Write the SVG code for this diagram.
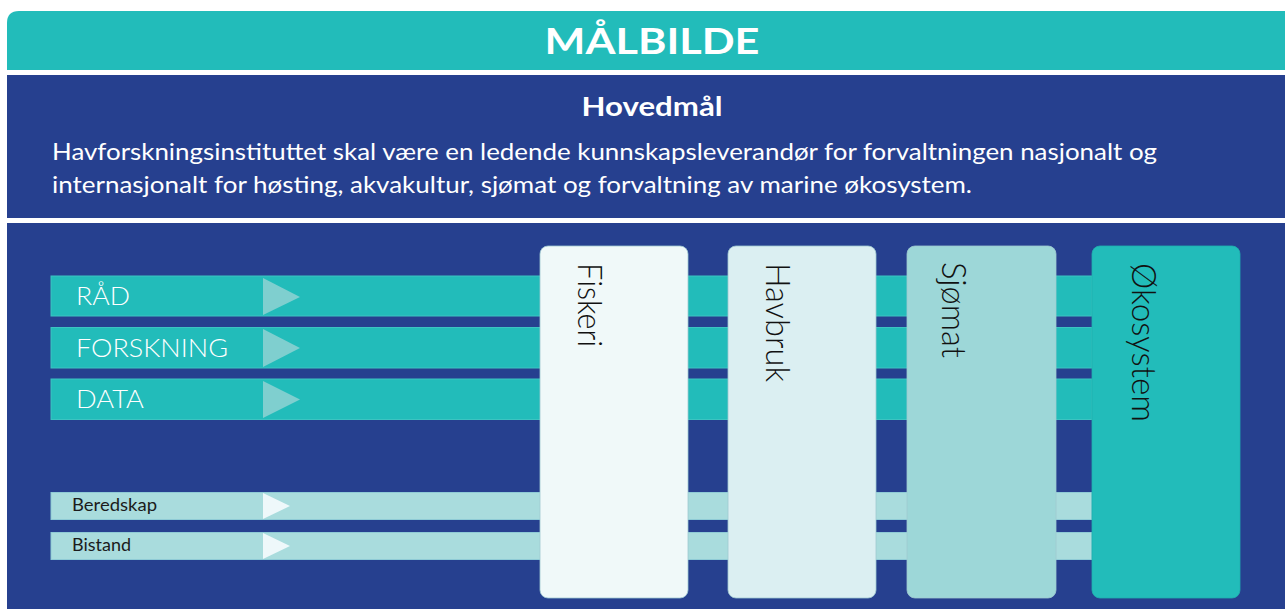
<svg xmlns="http://www.w3.org/2000/svg" width="1285" height="609" viewBox="0 0 1285 609">
<style>
.teal{fill:#22bcba}
.navy{fill:#26408f}
.bar{fill:#22bcba;stroke:#3cc4c2;stroke-width:1}
.sbar{fill:#a9dcdd;stroke:#8fcbd6;stroke-width:1}
.tri{fill:#7fcfcf}
.stri{fill:#eef8fa}
.card{stroke:#9fc9d0;stroke-width:0.8}
.hdr{font-family:Lato,"Open Sans","Liberation Sans",sans-serif;fill:#ffffff;font-weight:700}
.body{font-family:Lato,"Open Sans","Liberation Sans",sans-serif;fill:#ffffff;font-size:23px;font-weight:400}
.lbl{font-family:Lato,"Open Sans","Liberation Sans",sans-serif;fill:#ffffff;font-size:25px;font-weight:300}
.slbl{font-family:Lato,"Open Sans","Liberation Sans",sans-serif;fill:#1b1b1b;font-size:18px}
.vlbl{font-family:Lato,"Open Sans","Liberation Sans",sans-serif;fill:#111111;font-size:34px;font-weight:300}
</style>
<rect width="1285" height="609" fill="#ffffff"/>
<g id="header">
<path class="teal" d="M7,70 L7,23 Q7,11 19,11 L1285,11 L1285,70 Z"/>
<text class="hdr" x="652" y="54" font-size="37" text-anchor="middle" textLength="215" lengthAdjust="spacingAndGlyphs">MÅLBILDE</text>
</g>
<g id="hovedmal">
<rect class="navy" x="7" y="75" width="1278" height="143"/>
<text class="hdr" x="652" y="116" font-size="26" text-anchor="middle" textLength="141" lengthAdjust="spacingAndGlyphs">Hovedmål</text>
<text class="body" x="52" y="160" textLength="1105" lengthAdjust="spacingAndGlyphs">Havforskningsinstituttet skal være en ledende kunnskapsleverandør for forvaltningen nasjonalt og</text>
<text class="body" x="52" y="193" textLength="920" lengthAdjust="spacingAndGlyphs">internasjonalt for høsting, akvakultur, sjømat og forvaltning av marine økosystem.</text>
</g>
<rect class="navy" x="7" y="223" width="1278" height="386"/>
<g id="connectors">
<g id="rad">
<rect class="bar" x="51" y="276" width="1041" height="40"/>
<polygon class="tri" points="263,278 300,297 263,315"/>
<text class="lbl" x="76" y="305" textLength="54" lengthAdjust="spacingAndGlyphs">RÅD</text>
</g>
<g id="forskning">
<rect class="bar" x="51" y="327.5" width="1041" height="40.5"/>
<polygon class="tri" points="263,329 300,348 263,367"/>
<text class="lbl" x="76" y="357" textLength="152" lengthAdjust="spacingAndGlyphs">FORSKNING</text>
</g>
<g id="data">
<rect class="bar" x="51" y="379" width="1041" height="40.5"/>
<polygon class="tri" points="263,381 300,399.5 263,418"/>
<text class="lbl" x="76" y="408" textLength="68" lengthAdjust="spacingAndGlyphs">DATA</text>
</g>
<g id="beredskap">
<rect class="sbar" x="51" y="492.5" width="1041" height="27"/>
<polygon class="stri" points="263,493 290,506 263,519"/>
<text class="slbl" x="72" y="511" textLength="85" lengthAdjust="spacingAndGlyphs">Beredskap</text>
</g>
<g id="bistand">
<rect class="sbar" x="51" y="532.5" width="1041" height="27"/>
<polygon class="stri" points="263,533 290,546 263,559"/>
<text class="slbl" x="72" y="551" textLength="59" lengthAdjust="spacingAndGlyphs">Bistand</text>
</g>
</g>
<g id="fiskeri">
<rect class="card" x="540" y="246" width="148" height="352" rx="8" fill="#f0f9f9"/>
<text class="vlbl" transform="translate(578,263) rotate(90)" textLength="84" lengthAdjust="spacingAndGlyphs">Fiskeri</text>
</g>
<g id="havbruk">
<rect class="card" x="728" y="246" width="148" height="352" rx="8" fill="#dbeff2"/>
<text class="vlbl" transform="translate(766,263) rotate(90)" textLength="119" lengthAdjust="spacingAndGlyphs">Havbruk</text>
</g>
<g id="sjomat">
<rect class="card" x="907" y="246" width="149" height="352" rx="8" fill="#9dd7d8"/>
<text class="vlbl" transform="translate(942,262) rotate(90)" textLength="96" lengthAdjust="spacingAndGlyphs">Sjømat</text>
</g>
<g id="okosystem">
<rect x="1092" y="246" width="148" height="352" rx="8" fill="#22bcba" stroke="#1fb0ae" stroke-width="0.8"/>
<text class="vlbl" transform="translate(1132,263) rotate(90)" textLength="159" lengthAdjust="spacingAndGlyphs">Økosystem</text>
</g>
</svg>
